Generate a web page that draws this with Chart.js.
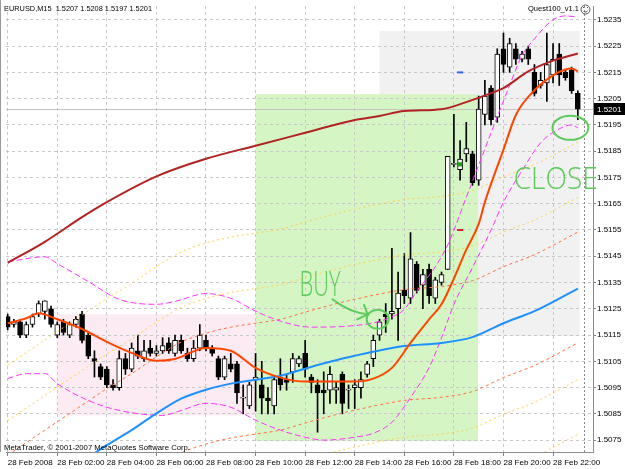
<!DOCTYPE html>
<html>
<head>
<meta charset="utf-8">
<script src="https://cdn.jsdelivr.net/npm/chart.js@4.4.1/dist/chart.umd.min.js"></script>
<style>
  html, body { margin: 0; padding: 0; background: #fff; }
  #wrap { width: 625px; height: 469px; }
</style>
</head>
<body>
<div id="wrap"><canvas id="chart" width="625" height="469"></canvas></div>
<script>
(function() {
  'use strict';

  // time axis: one bar per 15 minutes, label every 8 bars
  var tickBars = [0, 8, 16, 24, 32, 40, 48, 56, 64, 72, 80, 88];
  var tickLabels = ['28 Feb 2008', '28 Feb 02:00', '28 Feb 04:00', '28 Feb 06:00', '28 Feb 08:00', '28 Feb 10:00',
    '28 Feb 12:00', '28 Feb 14:00', '28 Feb 16:00', '28 Feb 18:00', '28 Feb 20:00', '28 Feb 22:00'];
  var priceTicks = [1.5235, 1.5225, 1.5215, 1.5205, 1.5195, 1.5185, 1.5175, 1.5165, 1.5155,
    1.5145, 1.5135, 1.5125, 1.5115, 1.5105, 1.5095, 1.5085, 1.5075];

  var openP = [1.5122,1.5119,1.5120,1.5115,1.5119,1.5123,1.5124,1.5125,1.5115,1.5120,
    1.5115,1.5119,1.5123,1.5115,1.5106,1.5103,1.5102,1.5096,1.5095,1.5106,
    1.5102,1.5109,1.5106,1.5110,1.5108,1.5109,1.5112,1.5108,1.5113,1.5108,
    1.5106,1.5110,1.5113,1.5110,1.5106,1.5099,1.5104,1.5104,1.5091,1.5088,
    1.5098,1.5096,1.5091,1.5088,1.5099,1.5098,1.5101,1.5104,1.5108,1.5099,
    1.5096,1.5094,1.5094,1.5094,1.5100,1.5094,1.5095,1.5095,1.5100,1.5106,
    1.5115,1.5123,1.5123,1.5125,1.5132,1.5129,1.5142,1.5134,1.5140,1.5129,
    1.5135,1.5140,1.5180,1.5178,1.5184,1.5184,1.5174,1.5199,1.5209,1.5198,
    1.5224,1.5217,1.5224,1.5220,1.5224,1.5215,1.5210,1.5211,1.5214,1.5222,
    1.5215,1.5216,1.5207];
  var highP = [1.5123,1.5121,1.5121,1.5120,1.5123,1.5128,1.5128,1.5126,1.5120,1.5121,
    1.5120,1.5122,1.5124,1.5116,1.5109,1.5104,1.5103,1.5098,1.5109,1.5108,
    1.5112,1.5115,1.5113,1.5113,1.5111,1.5114,1.5114,1.5115,1.5115,1.5110,
    1.5113,1.5119,1.5115,1.5111,1.5107,1.5107,1.5108,1.5105,1.5096,1.5097,
    1.5108,1.5105,1.5095,1.5099,1.5106,1.5100,1.5108,1.5107,1.5113,1.5100,
    1.5098,1.5101,1.5103,1.5097,1.5101,1.5096,1.5098,1.5101,1.5105,1.5115,
    1.5121,1.5127,1.5148,1.5139,1.5146,1.5154,1.5143,1.5140,1.5142,1.5137,
    1.5139,1.5183,1.5199,1.5189,1.5196,1.5185,1.5206,1.5212,1.5210,1.5224,
    1.5230,1.5228,1.5226,1.5223,1.5225,1.5218,1.5215,1.5230,1.5226,1.5226,
    1.5216,1.5217,1.5208];
  var lowP = [1.5117,1.5118,1.5114,1.5114,1.5118,1.5122,1.5121,1.5118,1.5114,1.5115,
    1.5114,1.5118,1.5112,1.5106,1.5099,1.5098,1.5095,1.5094,1.5094,1.5100,
    1.5101,1.5106,1.5105,1.5107,1.5107,1.5108,1.5108,1.5107,1.5108,1.5105,
    1.5105,1.5109,1.5109,1.5107,1.5098,1.5098,1.5101,1.5089,1.5085,1.5087,
    1.5086,1.5085,1.5085,1.5085,1.5094,1.5094,1.5097,1.5103,1.5099,1.5093,
    1.5078,1.5085,1.5089,1.5089,1.5085,1.5087,1.5087,1.5091,1.5099,1.5103,
    1.5113,1.5116,1.5121,1.5113,1.5127,1.5127,1.5131,1.5125,1.5127,1.5127,
    1.5134,1.5140,1.5179,1.5174,1.5181,1.5172,1.5172,1.5195,1.5195,1.5196,
    1.5215,1.5215,1.5218,1.5219,1.5218,1.5206,1.5209,1.5204,1.5211,1.5210,
    1.5212,1.5207,1.5197];
  var closeP = [1.5118,1.5120,1.5115,1.5119,1.5122,1.5127,1.5128,1.5119,1.5119,1.5116,
    1.5119,1.5121,1.5113,1.5107,1.5105,1.5099,1.5096,1.5095,1.5106,1.5102,
    1.5110,1.5107,1.5109,1.5108,1.5109,1.5111,1.5109,1.5113,1.5109,1.5106,
    1.5110,1.5115,1.5110,1.5108,1.5099,1.5106,1.5102,1.5093,1.5091,1.5096,
    1.5099,1.5091,1.5090,1.5098,1.5096,1.5097,1.5106,1.5106,1.5102,1.5097,
    1.5093,1.5093,1.5100,1.5095,1.5089,1.5094,1.5096,1.5098,1.5104,1.5113,
    1.5120,1.5122,1.5124,1.5131,1.5130,1.5144,1.5132,1.5138,1.5130,1.5136,
    1.5138,1.5183,1.5180,1.5182,1.5186,1.5173,1.5201,1.5206,1.5197,1.5222,
    1.5218,1.5226,1.5220,1.5222,1.5220,1.5207,1.5212,1.5218,1.5220,1.5214,
    1.5213,1.5208,1.5201];

  // moving averages (read at selected bars)
  var slowMaBars = [0,6,12,16,24,32,40,48,56,60,64,70,74,78,80,84,88,92];
  var slowMaVals = [1.51425,1.51505,1.51599,1.51656,1.51754,1.51821,1.51871,1.5192,1.51969,1.51984,
    1.52003,1.5201,1.52037,1.52071,1.5209,1.52154,1.52195,1.52222];
  var fastMaBars = [0,3,5,8,12,16,20,24,27,32,36,40,44,48,56,59,62,65,68,70,72,74,76,77,80,82,85,88,90,91,92];
  var fastMaVals = [1.51195,1.51214,1.51233,1.5121,1.51173,1.51124,1.51082,1.51052,1.51059,1.51101,
    1.5109,1.51025,1.50988,1.50973,1.50973,1.50984,1.51025,1.5112,1.5121,1.51267,
    1.51365,1.51475,1.51573,1.51656,1.51856,1.51988,1.52082,1.52139,1.52161,1.52165,1.52154];
  var midMaBars = [6,11,16,20,24,28,32,36,40,44,48,52,56,64,70,75,80,85,92];
  var midMaVals = [1.50573,1.50652,1.50731,1.50788,1.50852,1.50908,1.50942,1.50965,1.5098,1.50995,
    1.51022,1.51048,1.51071,1.51108,1.5112,1.51142,1.51195,1.51241,1.51327];

  // bands
  var bandUpBars = [0,6,8,13,18,24,27,32,36,40,44,49,58,61,64,66,69,71,74,78,81,83,85,88,90,92];
  var bandUpVals = [1.51429,1.51448,1.51422,1.51354,1.51286,1.51267,1.51278,1.51308,1.5129,1.51241,
    1.51203,1.5118,1.51192,1.5121,1.51248,1.51316,1.5141,1.51493,1.51674,1.5192,
    1.52101,1.52214,1.52278,1.5235,1.52365,1.52361];
  var bandLoBars = [0,3,6,8,13,18,25,28,32,36,40,44,48,51,56,59,62,65,68,70,72,75,78,80,83,86,89,91,92];
  var bandLoVals = [1.50984,1.51003,1.51003,1.50965,1.50901,1.50863,1.50844,1.50863,1.5089,1.50875,
    1.50826,1.50788,1.50761,1.5075,1.50761,1.50776,1.50818,1.50912,1.51026,1.51139,
    1.51267,1.51407,1.5155,1.51656,1.51776,1.51882,1.51935,1.5195,1.51939];

  // envelopes
  var envBars = [0,6,11,16,20,24,28,32,36,40,44,48,52,56,64,70,75,80,85,92];
  var envUpFar = [1.51036,1.51131,1.5121,1.51289,1.51346,1.5141,1.51466,1.515,1.51523,1.51538,
    1.51553,1.5158,1.51606,1.51629,1.51666,1.51678,1.517,1.51753,1.51799,1.51885];
  var envUpMid = [1.50825,1.5092,1.50999,1.51078,1.51135,1.51199,1.51255,1.51289,1.51312,1.51327,
    1.51342,1.51369,1.51395,1.51418,1.51455,1.51467,1.51489,1.51542,1.51588,1.51674];
  var envUpNear = [1.50693,1.50788,1.50867,1.50946,1.51003,1.51067,1.51123,1.51157,1.5118,1.51195,
    1.5121,1.51237,1.51263,1.51286,1.51323,1.51335,1.51357,1.5141,1.51456,1.51542];
  var envLoNearBars = [24,28,32,36,40,44,48,52,56,64,70,75,80,85,92];
  var envLoNear = [1.50645,1.50701,1.50735,1.50758,1.50773,1.50788,1.50815,1.50841,1.50864,1.50901,
    1.50913,1.50935,1.50988,1.51034,1.5112];
  var envLoMidBars = [44,48,52,56,64,70,75,80,85,92];
  var envLoMid = [1.50648,1.50675,1.50701,1.50724,1.50761,1.50773,1.50795,1.50848,1.50894,1.5098];
  var envLoFarBars = [70,75,80,85,92];
  var envLoFar = [1.50565,1.50587,1.5064,1.50686,1.50772];

  // small signal marks
  var markBars = [73, 73, 73];
  var markPrices = [1.5215, 1.5155, 1.5180];

  // rectangle objects on the chart: from bar, to bar, top price, bottom price
  var zoneFrom = [60, 7.9, 40];
  var zoneTo = [92.3, 40, 75.9];
  var zoneTop = [1.52308, 1.51229, 1.52067];
  var zoneBottom = [1.51146, 1.50844, 1.50746];
  var zoneColors = ['#f1f1f1', '#fcebf2', '#d5f5c4'];

  var ink = '#5ccb5c';
  var last = closeP.length - 1;

  function pts(bars, vals) {
    return bars.map(function(b, i) { return { x: b, y: vals[i] }; });
  }

  function lineSet(label, bars, vals, color, width, dash) {
    return {
      type: 'line', label: label, data: pts(bars, vals),
      borderColor: color, borderWidth: width, borderDash: dash || [],
      pointRadius: 0, fill: false, cubicInterpolationMode: 'monotone', clip: 0
    };
  }

  var overlay = {
    id: 'mtOverlay',
    beforeDraw: function(chart) {
      var ctx = chart.ctx, xs = chart.scales.x, ys = chart.scales.y;
      ctx.save();
      ctx.fillStyle = '#fff';
      ctx.fillRect(0, 0, chart.width, chart.height);
      zoneFrom.forEach(function(f, i) {
        var x0 = xs.getPixelForValue(f), x1 = xs.getPixelForValue(zoneTo[i]);
        var y0 = ys.getPixelForValue(zoneTop[i]), y1 = ys.getPixelForValue(zoneBottom[i]);
        ctx.fillStyle = zoneColors[i];
        ctx.fillRect(x0, y0, x1 - x0, y1 - y0);
      });
      ctx.restore();
    },
    beforeDatasetsDraw: function(chart) {
      var ctx = chart.ctx, a = chart.chartArea, xs = chart.scales.x, ys = chart.scales.y;
      ctx.save();
      var py = Math.round(ys.getPixelForValue(closeP[last])) + 0.5;
      ctx.strokeStyle = '#c4c4c4';
      ctx.lineWidth = 1;
      ctx.beginPath(); ctx.moveTo(a.left, py); ctx.lineTo(a.right, py); ctx.stroke();
      var sx = Math.round(xs.getPixelForValue(last + 1)) + 0.5;
      ctx.strokeStyle = '#8a8a8a';
      ctx.setLineDash([2, 2]);
      ctx.beginPath(); ctx.moveTo(sx, a.top); ctx.lineTo(sx, a.bottom); ctx.stroke();
      ctx.restore();
    },
    afterDatasetsDraw: function(chart) {
      var ctx = chart.ctx, xs = chart.scales.x, ys = chart.scales.y;
      function X(b) { return xs.getPixelForValue(b); }
      function Y(p) { return ys.getPixelForValue(p); }
      ctx.save();
      ctx.fillStyle = ink;
      ctx.strokeStyle = ink;
      ctx.lineWidth = 2;
      ctx.lineCap = 'round';
      ctx.lineJoin = 'round';
      ctx.textBaseline = 'alphabetic';
      ctx.font = '300 35px "Open Sans", "DejaVu Sans", sans-serif';
      ctx.fillText('BUY', X(47.1), Y(1.51297), 41);
      ctx.font = '300 31px "Open Sans", "DejaVu Sans", sans-serif';
      ctx.fillText('CLOSE', X(81.65), Y(1.51705), 84);
      // arrow towards the entry
      ctx.beginPath();
      ctx.moveTo(X(52.4), Y(1.51286));
      ctx.quadraticCurveTo(X(55.2), Y(1.51235), X(58.1), Y(1.51229));
      ctx.stroke();
      ctx.beginPath();
      ctx.moveTo(X(57.5), Y(1.51265));
      ctx.lineTo(X(58.1), Y(1.51229));
      ctx.lineTo(X(56.4), Y(1.51210));
      ctx.stroke();
      // circles
      ctx.beginPath();
      ctx.ellipse(X(59.7), Y(1.5121), 11, 9.5, 0, 0, Math.PI * 2);
      ctx.stroke();
      ctx.beginPath();
      ctx.ellipse(X(90.8), Y(1.51939), 18, 12, 0, 0, Math.PI * 2);
      ctx.stroke();
      ctx.restore();
    },
    afterDraw: function(chart) {
      var ctx = chart.ctx, a = chart.chartArea, ys = chart.scales.y;
      ctx.save();
      ctx.font = '8px "Liberation Sans", Arial, sans-serif';
      ctx.textBaseline = 'middle';
      ctx.fillStyle = '#000';
      var head = 'EURUSD,M15  ' + [openP[last], highP[last], lowP[last], closeP[last]].map(function(v) { return v.toFixed(4); }).join(' ');
      ctx.fillText(head, 4, 9, 148);
      ctx.textAlign = 'right';
      ctx.fillText('Quest100_v1.1', 579, 9, 51);
      ctx.textAlign = 'left';
      ctx.fillText('MetaTrader, \u00a9 2001-2007 MetaQuotes Software Corp.', 4, 448, 186);
      // smiley
      ctx.strokeStyle = '#555';
      ctx.lineWidth = 1;
      ctx.beginPath(); ctx.arc(585.5, 9.5, 4.5, 0, Math.PI * 2); ctx.stroke();
      ctx.fillStyle = '#555';
      ctx.fillRect(583, 7, 1, 1); ctx.fillRect(587, 7, 1, 1);
      ctx.beginPath(); ctx.arc(585.5, 9.5, 2.5, 0.2 * Math.PI, 0.8 * Math.PI); ctx.stroke();
      // price label
      var py = Math.round(ys.getPixelForValue(closeP[last]));
      ctx.fillStyle = '#000';
      ctx.fillRect(a.right + 1, py - 6, 31, 12);
      ctx.fillStyle = '#fff';
      ctx.fillText(closeP[last].toFixed(4), a.right + 4, py + 0.5);
      // window frame on the left
      ctx.strokeStyle = '#9a9a9a';
      ctx.beginPath(); ctx.moveTo(0.5, 0); ctx.lineTo(0.5, a.bottom); ctx.stroke();
      ctx.restore();
    }
  };

  Chart.defaults.font.family = '"Liberation Sans", Arial, sans-serif';
  Chart.defaults.font.size = 8;
  Chart.defaults.color = '#000';

  var bodyColors = openP.map(function(o, i) { return closeP[i] >= o ? '#ffffff' : '#000000'; });

  new Chart(document.getElementById('chart'), {
    type: 'bar',
    data: {
      datasets: [
        lineSet('MA slow', slowMaBars, slowMaVals, '#b22222', 2),
        lineSet('MA fast', fastMaBars, fastMaVals, '#ff4500', 2),
        lineSet('MA mid', midMaBars, midMaVals, '#1e90ff', 2),
        lineSet('Band up', bandUpBars, bandUpVals, '#ff33ff', 1, [6, 3]),
        lineSet('Band low', bandLoBars, bandLoVals, '#ff33ff', 1, [6, 3]),
        lineSet('Env up near', envBars, envUpNear, '#ff7043', 1, [3, 3]),
        lineSet('Env low near', envLoNearBars, envLoNear, '#ff7043', 1, [3, 3]),
        lineSet('Env up mid', envBars, envUpMid, '#ffd24a', 1, [2, 3]),
        lineSet('Env up far', envBars, envUpFar, '#ffd24a', 1, [2, 3]),
        lineSet('Env low mid', envLoMidBars, envLoMid, '#ffd24a', 1, [2, 3]),
        lineSet('Env low far', envLoFarBars, envLoFar, '#ffd24a', 1, [2, 3]),
        {
          type: 'scatter', label: 'marks', data: pts(markBars, markPrices),
          pointStyle: ['line', 'line', 'rect'], pointRadius: [3, 3, 1.5],
          borderColor: ['#3060ff', '#e02020', '#20a020'], backgroundColor: ['#3060ff', '#e02020', '#20a020'],
          borderWidth: 2, clip: 0
        },
        {
          label: 'body', data: openP.map(function(o, i) { return { x: i, y: [o, closeP[i]] }; }),
          backgroundColor: bodyColors, borderColor: '#000', borderWidth: 1, borderSkipped: false,
          barThickness: 5, grouped: false, minBarLength: 1
        },
        {
          label: 'wick', data: lowP.map(function(l, i) { return { x: i, y: [l, highP[i]] }; }),
          backgroundColor: '#000', borderWidth: 0, barThickness: 1, grouped: false
        }
      ]
    },
    options: {
      responsive: false,
      animation: false,
      devicePixelRatio: 1,
      layout: { padding: { top: 2, left: 1, right: 0, bottom: 0 } },
      plugins: { legend: { display: false }, tooltip: { enabled: false } },
      scales: {
        x: {
          type: 'linear', offset: false, min: -0.272, max: 94.448,
          grid: { color: '#c8c8c8', offset: false, tickLength: 4, tickColor: '#808080' },
          border: { color: '#8c8c8c', dash: [3, 3] },
          ticks: {
            align: 'start', maxRotation: 0, autoSkip: false, padding: 2,
            callback: function(v) { var k = tickBars.indexOf(v); return k >= 0 ? tickLabels[k] : ''; }
          },
          afterBuildTicks: function(axis) { axis.ticks = tickBars.map(function(v) { return { value: v }; }); },
          afterFit: function(axis) { axis.height = 17; axis.paddingLeft = 0; axis.paddingRight = 0; }
        },
        y: {
          type: 'linear', position: 'right', beginAtZero: false, min: 1.5070472, max: 1.5240283,
          grid: { color: '#c8c8c8', tickLength: 3, tickColor: '#808080' },
          border: { color: '#8c8c8c', dash: [3, 3] },
          ticks: { padding: 1, autoSkip: false, callback: function(v) { return v.toFixed(4); } },
          afterBuildTicks: function(axis) { axis.ticks = priceTicks.map(function(v) { return { value: v }; }); },
          afterFit: function(axis) { axis.width = 32; axis.paddingTop = 0; axis.paddingBottom = 0; }
        }
      }
    },
    plugins: [overlay]
  });
})();
</script>
</body>
</html>
